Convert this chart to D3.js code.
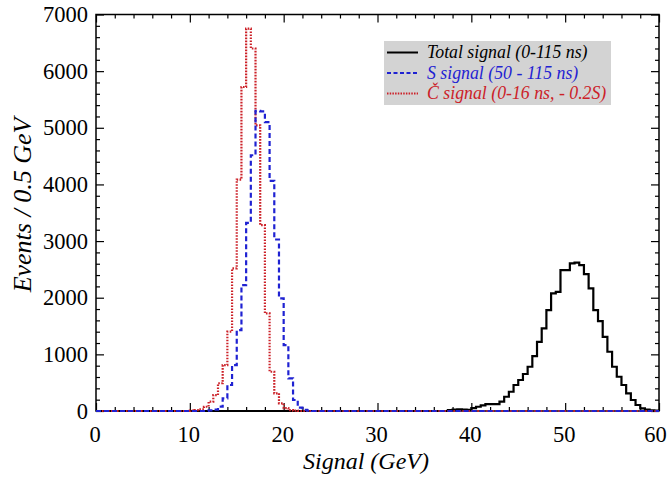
<!DOCTYPE html>
<html>
<head>
<meta charset="utf-8">
<script src="https://cdn.jsdelivr.net/npm/d3@7/dist/d3.min.js"></script>
<style>
body { margin: 0; background: #fff; }
text { font-family: "Liberation Serif", "Times New Roman", serif; }
</style>
</head>
<body>
<svg id="chart" width="669" height="477"></svg>
<script>
// histograms, 0.5 GeV bins, counts from the first non-empty bin on
var binWidth = 0.5;

var totalStart = 37.5;
var totalCounts = [15, 25, 30, 25, 20, 50, 75, 100, 123, 123, 123, 165, 252, 340, 459, 547,
	653, 781, 970, 1222, 1458, 1781, 2075, 2104, 2487, 2487, 2605, 2620, 2575, 2416, 2164,
	1781, 1587, 1310, 1046, 781, 605, 459, 312, 194, 106, 48, 25, 12, 5];

var sStart = 12.0;
var sCounts = [10, 25, 76, 224, 459, 811, 1428, 2222, 3321, 4515, 5300, 5290, 5100, 4062,
	3028, 1988, 1164, 577, 194, 58, 20, 8];

var cStart = 10.0;
var cCounts = [5, 15, 30, 75, 165, 280, 490, 810, 1400, 2517, 4086, 5720, 6750, 6400, 5044,
	3280, 1723, 693, 312, 136, 50, 15, 5];

var legendLabels = ["Total signal (0-115 ns)", "S signal (50 - 115 ns)", "\u010C signal (0-16 ns, - 0.2S)"];

var xMajor = [0, 10, 20, 30, 40, 50, 60];
var yMajor = [0, 1000, 2000, 3000, 4000, 5000, 6000, 7000];

var blue = "#1f22d2";
var red = "#cc2128";

var svg = d3.select("#chart");
// (don't call it "top", that's window.top)
var pLeft = 96, pRight = 659, pTop = 14.5, pBottom = 411;

var x = d3.scaleLinear().domain([0, 60]).range([pLeft, pRight]);
var y = d3.scaleLinear().domain([0, 7000]).range([pBottom, pTop]);

// pad a histogram out to the full 0-60 range with empty bins
function fullHist(start, counts) {
	var n = Math.round(60 / binWidth);
	var first = Math.round(start / binWidth);
	var pts = [];
	for (var i = 0; i < n; i++) {
		var v = (i >= first && i - first < counts.length) ? counts[i - first] : 0;
		pts.push([i * binWidth, v]);
	}
	pts.push([60, pts[n - 1][1]]);
	return pts;
}

var line = d3.line()
	.x(function(d) { return x(d[0]); })
	.y(function(d) { return y(d[1]); })
	.curve(d3.curveStepAfter);

// ticks: majors and minors, inward on all four sides
function ticks(axis, vals, size, labels, pad) {
	return axis.tickValues(vals).tickSize(-size).tickPadding(pad || 8)
		.tickFormat(labels ? d3.format("d") : "");
}
var xMinor = d3.range(0, 61, 2).filter(function(v) { return v % 10 !== 0; });
var yMinor = d3.range(0, 7001, 200).filter(function(v) { return v % 1000 !== 0; });

function drawAxis(gen, tr) {
	var g = svg.append("g").attr("transform", tr).call(gen);
	g.select(".domain").remove();
	g.selectAll("line").attr("stroke", "#000").attr("stroke-width", 1.2);
	g.selectAll("text").attr("font-size", "22.5px").attr("fill", "#000")
		.style("font-family", '"Liberation Serif", serif');
	return g;
}

var xLab = drawAxis(ticks(d3.axisBottom(x), xMajor, 8, true, 15), "translate(0," + pBottom + ")");
xLab.selectAll("text").attr("dx", function(d) { return d === 60 ? -4 : -1.5; });
drawAxis(ticks(d3.axisBottom(x), xMinor, 4, false), "translate(0," + pBottom + ")");
drawAxis(ticks(d3.axisTop(x), xMajor, 8, false), "translate(0," + pTop + ")");
drawAxis(ticks(d3.axisTop(x), xMinor, 4, false), "translate(0," + pTop + ")");
drawAxis(ticks(d3.axisLeft(y), yMajor, 8, true, 8), "translate(" + pLeft + ",0)");
drawAxis(ticks(d3.axisLeft(y), yMinor, 4, false), "translate(" + pLeft + ",0)");
drawAxis(ticks(d3.axisRight(y), yMajor, 8, false), "translate(" + pRight + ",0)");
drawAxis(ticks(d3.axisRight(y), yMinor, 4, false), "translate(" + pRight + ",0)");

svg.append("rect")
	.attr("x", pLeft).attr("y", pTop)
	.attr("width", pRight - pLeft).attr("height", pBottom - pTop)
	.attr("fill", "none").attr("stroke", "#000").attr("stroke-width", 1.5);

// the three histograms
svg.append("path").datum(fullHist(totalStart, totalCounts))
	.attr("d", line).attr("fill", "none")
	.attr("stroke", "#000").attr("stroke-width", 2.2);

svg.append("path").datum(fullHist(cStart, cCounts))
	.attr("d", line).attr("fill", "none")
	.attr("stroke", red).attr("stroke-width", 2.2)
	.attr("stroke-dasharray", "1.6,1.4");

svg.append("path").datum(fullHist(sStart, sCounts))
	.attr("d", line).attr("fill", "none")
	.attr("stroke", blue).attr("stroke-width", 2.2)
	.attr("stroke-dasharray", "5,3");

// legend
var lg = svg.append("g");
lg.append("rect")
	.attr("x", 384).attr("y", 41).attr("width", 227).attr("height", 64)
	.attr("fill", "#d3d3d3");

var legStyles = [
	{ color: "#000", dash: null },
	{ color: blue, dash: "4,2.5" },
	{ color: red, dash: "1.5,1.2" }
];
var textColors = ["#000", blue, red];

legendLabels.forEach(function(lab, i) {
	var ly = 52.5 + i * 20.5;
	lg.append("line")
		.attr("x1", 387).attr("x2", 418).attr("y1", ly).attr("y2", ly)
		.attr("stroke", legStyles[i].color).attr("stroke-width", 2)
		.attr("stroke-dasharray", legStyles[i].dash);
	lg.append("text")
		.attr("x", 427).attr("y", ly + 5.5)
		.attr("font-size", "17.8px").attr("font-style", "italic")
		.attr("fill", textColors[i])
		.text(lab);
});

// axis titles
svg.append("text")
	.attr("x", 366).attr("y", 469)
	.attr("text-anchor", "middle")
	.attr("font-size", "24px").attr("font-style", "italic")
	.text("Signal (GeV)");

svg.append("text")
	.attr("transform", "translate(31,205) rotate(-90)")
	.attr("text-anchor", "middle")
	.attr("font-size", "26px").attr("font-style", "italic")
	.text("Events / 0.5 GeV");
</script>
</body>
</html>
